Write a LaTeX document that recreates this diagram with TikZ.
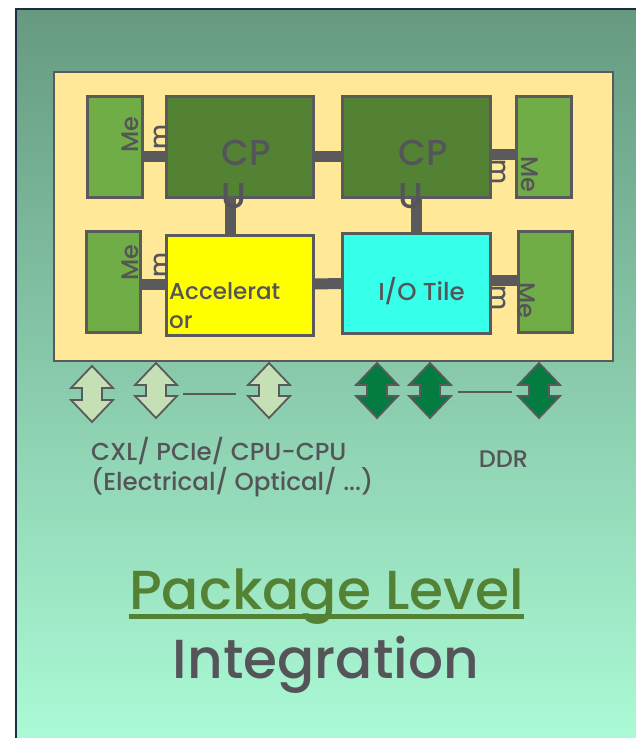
\documentclass[tikz,border=0pt]{standalone}
\usepackage{fontspec}
\setmainfont{Poppins Medium}
\usetikzlibrary{calc}
\definecolor{bgtop}{HTML}{669A80}
\definecolor{bgbot}{HTML}{ABFAD6}
\definecolor{navy}{HTML}{1E2B45}
\definecolor{pkgfill}{HTML}{FFE999}
\definecolor{memfill}{HTML}{70AD47}
\definecolor{cpufill}{HTML}{548235}
\definecolor{accfill}{HTML}{FFFF00}
\definecolor{iofill}{HTML}{36FFEA}
\definecolor{lightarr}{HTML}{C5E0B4}
\definecolor{darkarr}{HTML}{047B41}
\definecolor{edge}{HTML}{5A5A5C}
\definecolor{txt}{HTML}{555559}
\definecolor{title}{HTML}{548235}
\tikzset{
  box/.style={draw=edge, line width=2.2pt, inner sep=0pt, anchor=center},
  conn/.style={draw=edge, line width=11pt},
  lbl/.style={text=txt, inner sep=0pt},
  memtxt/.style={text=txt, inner sep=0pt, font=\fontsize{24}{29}\selectfont},
  arrowbox/.style={draw=edge, line width=1.8pt, line join=miter},
  dashline/.style={draw=edge, line width=1.5pt},
}
\newcommand\dblarr[5]{% style, cx, top, bottom, name
  \draw[#1] (#2,#3) -- ++(21,22) -- ++(-11,0) -- (#2+10,#4-22) -- ++(11,0) -- (#2,#4)
    -- ++(-21,-22) -- ++(11,0) -- (#2-10,#3+22) -- ++(-11,0) -- cycle;
}
\begin{document}
\begin{tikzpicture}[x=1pt,y=-1pt]
\useasboundingbox (0,0) rectangle (636,738);
% background frame
\shade[top color=bgtop, bottom color=bgbot] (15,9) rectangle (636,738);
\draw[navy, line width=2.5pt] (16,738) -- (16,9) -- (636,9);
% package
\node[box, fill=pkgfill, minimum width=559, minimum height=289] (pkg) at (333.5,216.5) {};
% blocks
\node[box, fill=memfill, minimum width=54, minimum height=100] (m1) at (115,147) {};
\node[box, fill=cpufill, minimum width=146, minimum height=100] (c1) at (240,147) {};
\node[box, fill=cpufill, minimum width=147, minimum height=100] (c2) at (416.5,147) {};
\node[box, fill=memfill, minimum width=54, minimum height=100] (m2) at (544,147) {};
\node[box, fill=memfill, minimum width=53, minimum height=100] (m3) at (113.5,282) {};
\node[box, fill=accfill, minimum width=146, minimum height=99] (acc) at (240,285.5) {};
\node[box, fill=iofill, minimum width=147, minimum height=99] (io) at (416.5,283.5) {};
\node[box, fill=memfill, minimum width=53, minimum height=100] (m4) at (545.5,282) {};
% connectors
\draw[conn] ([yshift=-10pt]m1.east) -- ([yshift=-10pt]c1.west);
\draw[conn] ([yshift=-10pt]c1.east) -- ([yshift=-10pt]c2.west);
\draw[conn] ([xshift=-10pt]c1.south) -- ([xshift=-10pt]acc.north);
\draw[conn] (c2.south) -- (io.north);
\draw[conn] ([yshift=1.5pt]acc.east) -- (io.west);
\draw[conn] ([yshift=-2pt]m3.east) -- ([yshift=1.5pt]acc.west);
\draw[conn] ([yshift=-8pt]c2.east) -- ([yshift=-8pt]m2.west);
\draw[conn] ([yshift=3.5pt]io.east) -- ([yshift=2pt]m4.west);
% redraw box borders over connector ends
\foreach \n in {m1,c1,c2,m2,m3,acc,io,m4}{
  \draw[edge, line width=2.2pt] (\n.north west) rectangle (\n.south east);
}
% texts (base anchor = baseline of last line)
\node[lbl, anchor=base west, align=left, font=\fontsize{36}{43}\selectfont] (t1) at (221,208) {CP\\U};
\node[lbl, anchor=base west, align=left, font=\fontsize{36}{43}\selectfont] (t2) at (398,208) {CP\\U};
\node[lbl, anchor=base west, align=left, font=\fontsize{23}{29}\selectfont] (ta) at (169,328) {Accelerat\\or};
\node[lbl, anchor=base, font=\fontsize{24.5}{29}\selectfont] (ti) at (421.5,300) {I/O Tile};
% memory labels
\node[memtxt, rotate=90, anchor=base west] (me1) at (138,153) {Me};
\node[memtxt, rotate=90, anchor=base west] (mm1) at (167,150) {m};
\node[memtxt, rotate=90, anchor=base west] (me3) at (138,281) {Me};
\node[memtxt, rotate=90, anchor=base west] (mm3) at (167,278) {m};
\node[memtxt, rotate=-90, anchor=base west] (me2) at (521,156) {Me};
\node[memtxt, rotate=-90, anchor=base west] (mm2) at (492,159) {m};
\node[memtxt, rotate=-90, anchor=base west] (me4) at (518,282) {Me};
\node[memtxt, rotate=-90, anchor=base west] (mm4) at (492,285) {m};
% arrows
\dblarr{arrowbox, fill=lightarr}{92}{366}{422}{la1}
\dblarr{arrowbox, fill=lightarr}{156}{363}{418}{la2}
\dblarr{arrowbox, fill=lightarr}{269}{363}{418}{la3}
\dblarr{arrowbox, fill=darkarr}{377}{363}{418}{da1}
\dblarr{arrowbox, fill=darkarr}{430}{363}{418}{da2}
\dblarr{arrowbox, fill=darkarr}{539}{363}{418}{da3}
\coordinate (l1a) at (183,394);
\coordinate (l1b) at (236,394);
\coordinate (l2a) at (458,392);
\coordinate (l2b) at (512,392);
\draw[dashline] (l1a) -- (l1b);
\draw[dashline] (l2a) -- (l2b);
% bottom labels
\node[lbl, anchor=base west, align=left, font=\fontsize{24.6}{30}\selectfont] (cxl) at (91,490) {CXL/ PCIe/ CPU-CPU\\(Electrical/ Optical/ ...)};
\node[lbl, anchor=base, font=\fontsize{24}{30}\selectfont] (ddr) at (503.5,467) {DDR};
% title
\node[lbl, text=title, anchor=base, font=\fontsize{55}{70}\selectfont] (pl) at (326.5,609) {Package Level};
\draw[title, line width=5pt] ([yshift=-7pt]pl.base west) -- ([yshift=-7pt]pl.base east);
\node[lbl, anchor=base, font=\fontsize{55}{70}\selectfont] (ig) at (326,678) {Integration};
\end{tikzpicture}
\end{document}
